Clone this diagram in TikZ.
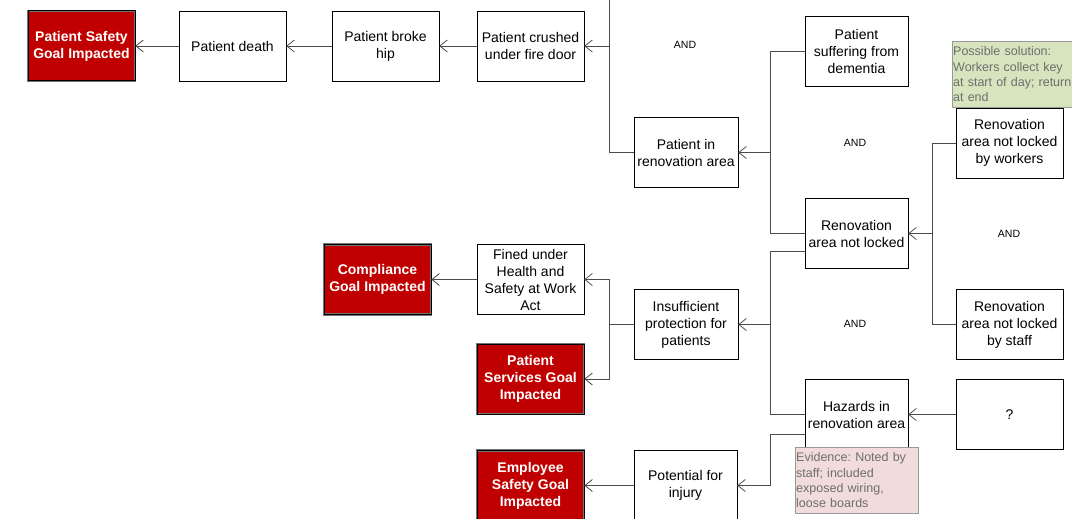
\documentclass[tikz,border=0pt]{standalone}
\usepackage{fontspec}
\setmainfont{Liberation Sans}
\usetikzlibrary{arrows.meta}
\definecolor{goalred}{HTML}{C00000}
\definecolor{solgreen}{HTML}{D7E4BD}
\definecolor{evipink}{HTML}{F2DCDB}
\definecolor{notetext}{HTML}{6E6E6E}
\frenchspacing

\begin{document}
\begin{tikzpicture}[x=1pt, y=-1pt, >={Straight Barb[length=7.5pt,width=12pt]},
  box/.style={draw, fill=white, minimum width=107pt, minimum height=70pt,
    align=center, inner sep=1pt, font=\fontsize{14}{17}\selectfont},
  goal/.style={box, fill=goalred, text=white, draw=black!55, double=black,
    line width=0.6pt, double distance=1pt, font=\fontsize{14}{17}\selectfont\bfseries},
  note/.style={draw=black!40, text=notetext, align=left, anchor=north west,
    inner sep=1pt, minimum height=66pt, font=\fontsize{12.5}{15.3}\selectfont},
  gate/.style={font=\fontsize{10.5}{12}\selectfont},
  conn/.style={draw=black!70, line width=0.8pt}]

\useasboundingbox (0,0) rectangle (1072,519);
\clip (0,0) rectangle (1072,519);

\node[goal] at (81.5, 46) (GOAL_SAFETY) {Patient Safety\\Goal Impacted};
\node[box] at (232.5, 46) (PAT_DEATH) {Patient death};
\node[box] at (385.5, 46) (BROKE_HIP) {Patient broke\\hip};
\node[box] at (530.5, 46) (CRUSHED) {Patient crushed\\under fire door};
\node[box, minimum width=104pt] at (686, 152.5) (IN_AREA) {Patient in\\renovation area};
\node[box, minimum width=103pt] at (856.5, 51.5) (DEMENTIA) {Patient\\suffering from\\dementia};
\node[box, minimum width=103pt] at (856.5, 233.5) (NOT_LOCKED) {Renovation\\area not locked};
\node[box, minimum width=103pt] at (856.5, 414.5) (HAZARDS) {Hazards in\\renovation area};
\node[box, minimum width=104pt] at (686, 324.5) (INSUFF) {Insufficient\\protection for\\patients};
\node[box] at (530.5, 279.5) (FINED) {Fined under\\Health and\\Safety at Work\\Act};
\node[goal] at (530.5, 379) (GOAL_SERVICES) {Patient\\Services Goal\\Impacted};
\node[goal] at (377.5, 279.5) (GOAL_COMPLIANCE) {Compliance\\Goal Impacted};
\node[box, minimum width=103pt] at (685.5, 485.5) (INJURY) {Potential for\\injury};
\node[goal] at (530.5, 485.5) (GOAL_EMPLOYEE) {Employee\\Safety Goal\\Impacted};
\node[box] at (1009.5, 143) (BY_WORKERS) {Renovation\\area not locked\\by workers};
\node[box] at (1009.5, 324.5) (BY_STAFF) {Renovation\\area not locked\\by staff};
\node[box] at (1009.5, 414.5) (UNKNOWN) {?};

\node[gate] at (685, 45) (AND_CRUSH) {AND};
\node[gate] at (855, 143) (AND_AREA) {AND};
\node[gate] at (855, 324) (AND_INSUFF) {AND};
\node[gate] at (1009, 234) (AND_NL) {AND};

\coordinate (TOP_END) at (609, 0);
\coordinate (J_CRUSH) at (609, 46);
\coordinate (J_AREA) at (770, 152.5);
\coordinate (J_INSUFF) at (770, 324.5);
\coordinate (J_INJ) at (770, 485.5);
\coordinate (J_OUT) at (609, 324.5);
\coordinate (J_NL) at (932, 233.5);

\draw [->, conn] (CRUSHED) to (BROKE_HIP);
\draw [->, conn] (BROKE_HIP) to (PAT_DEATH);
\draw [->, conn] (PAT_DEATH) to (GOAL_SAFETY);
\draw [conn] (TOP_END) |- (IN_AREA.west);
\draw [->, conn] (J_CRUSH) to (CRUSHED.east);

\draw [conn] (DEMENTIA.west) -| (J_AREA);
\draw [conn] (NOT_LOCKED.west) -| (J_AREA);
\draw [->, conn] (J_AREA) to (IN_AREA.east);

\draw [conn] ([yshift=-17.5pt]NOT_LOCKED.west) -| (J_INSUFF);
\draw [conn] (HAZARDS.west) -| (J_INSUFF);
\draw [->, conn] (J_INSUFF) to (INSUFF.east);

\draw [conn] ([yshift=-20pt]HAZARDS.west) -| (J_INJ);
\draw [->, conn] (J_INJ) to (INJURY.east);
\draw [->, conn] (INJURY) to (GOAL_EMPLOYEE);

\draw [conn] (INSUFF.west) to (J_OUT);
\draw [->, conn] (J_OUT) |- (FINED.east);
\draw [->, conn] (J_OUT) |- (GOAL_SERVICES.east);
\draw [->, conn] (FINED) to (GOAL_COMPLIANCE);

\draw [conn] (BY_WORKERS.west) -| (J_NL);
\draw [conn] (BY_STAFF.west) -| (J_NL);
\draw [->, conn] (J_NL) to (NOT_LOCKED.east);
\draw [->, conn] (UNKNOWN) to (HAZARDS);

\node[note, fill=solgreen, text width=130pt] at (952, 41) (SOLUTION)
  {Possible solution:\\Workers collect key\\at start of day; return\\at end};
\node[note, fill=evipink, text width=121pt] at (795, 447) (EVIDENCE)
  {Evidence: Noted by\\staff; included\\exposed wiring,\\loose boards};
\end{tikzpicture}
\end{document}
